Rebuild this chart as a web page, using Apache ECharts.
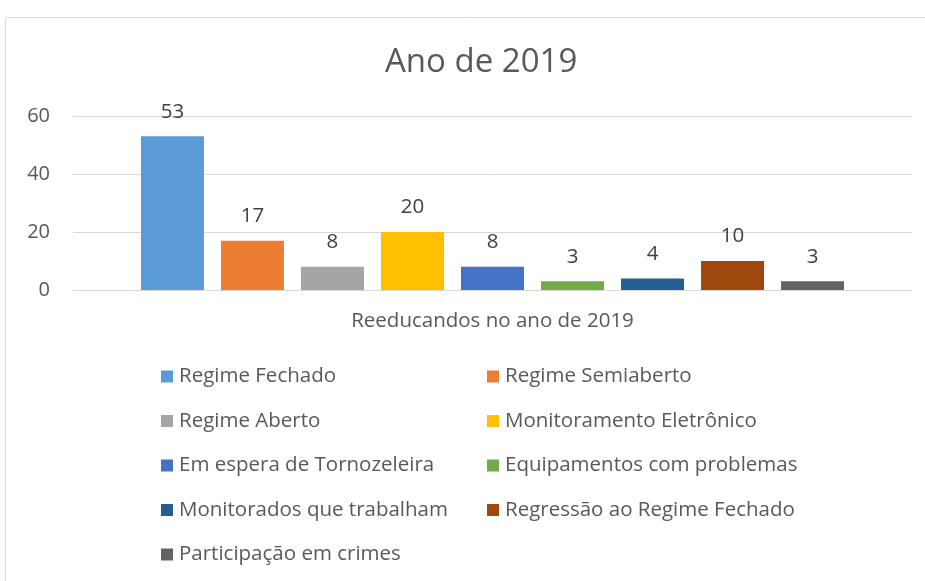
<!DOCTYPE html>
<html>
<head>
<meta charset="utf-8">
<script src="https://cdn.jsdelivr.net/npm/echarts@6/dist/echarts.min.js"></script>
<style>
  html, body { margin: 0; padding: 0; background: #fff; }
  #chart { width: 925px; height: 581px; }
</style>
</head>
<body>
<div id="chart"></div>
<script>
// dados
const categories = ['Reeducandos no ano de 2019']
const seriesNames = [
  'Regime Fechado',
  'Regime Semiaberto',
  'Regime Aberto',
  'Monitoramento Eletrônico',
  'Em espera de Tornozeleira',
  'Equipamentos com problemas',
  'Monitorados que trabalham',
  'Regressão ao Regime Fechado',
  'Participação em crimes'
]
const values = [53, 17, 8, 20, 8, 3, 4, 10, 3]
const colors = ['#5B9BD5', '#ED7D31', '#A5A5A5', '#FFC000', '#4472C4', '#70AD47', '#255E91', '#9E480E', '#636363']
const yTicks = [0, 20, 40, 60]

const font = '"Open Sans", Lato, sans-serif'
const myChart = echarts.init(document.getElementById('chart'))

// legenda em duas colunas (ordem do Excel: esquerda, direita, esquerda...)
const leftCol = seriesNames.filter((n, i) => i % 2 === 0)
const rightCol = seriesNames.filter((n, i) => i % 2 === 1)
const legendBase = {
  orient: 'vertical',
  top: 366,
  padding: 0,
  itemWidth: 12,
  itemHeight: 12,
  itemGap: 23.5,
  icon: 'rect',
  textStyle: { color: '#595959', fontSize: 20.5, fontFamily: font, lineHeight: 20, padding: [0, 0, 0, 1] }
}

const option = {
  animation: false,
  title: {
    text: 'Ano de 2019',
    left: 380,
    top: 41,
    textStyle: { color: '#595959', fontSize: 33, fontWeight: 'normal', fontFamily: font }
  },
  graphic: [{
    type: 'rect',
    shape: { x: 5.5, y: 17.5, width: 1000, height: 1000 },
    style: { fill: 'none', stroke: '#d9d9d9', lineWidth: 1 },
    silent: true
  }],
  legend: [
    Object.assign({ left: 161, data: leftCol }, legendBase),
    Object.assign({ left: 487, data: rightCol }, legendBase)
  ],
  grid: { left: 73, right: 13, top: 116, bottom: 291 },
  xAxis: {
    type: 'category',
    data: categories,
    axisTick: { show: false },
    axisLine: { lineStyle: { color: '#d9d9d9', width: 1 } },
    axisLabel: { color: '#595959', fontSize: 20.5, fontFamily: font, margin: 21 }
  },
  yAxis: {
    type: 'value',
    min: yTicks[0],
    max: yTicks[yTicks.length - 1],
    interval: 20,
    axisLine: { show: false },
    axisTick: { show: false },
    axisLabel: { color: '#595959', fontSize: 20, fontFamily: font, margin: 23 },
    splitLine: { lineStyle: { color: '#d9d9d9', width: 1 } }
  },
  series: seriesNames.map((name, i) => ({
    name: name,
    type: 'bar',
    barWidth: 63,
    barGap: '27%',
    itemStyle: { color: colors[i] },
    label: {
      show: true,
      position: 'top',
      distance: 14,
      color: '#404040',
      fontSize: 20.5,
      fontFamily: font
    },
    data: [values[i]]
  }))
}

myChart.setOption(option)
</script>
</body>
</html>
